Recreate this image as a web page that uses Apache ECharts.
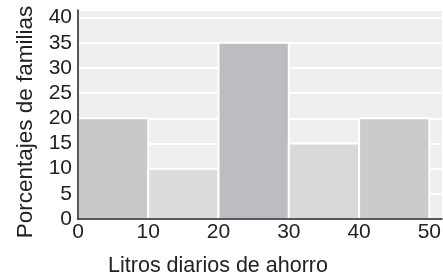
<!DOCTYPE html>
<html><head><meta charset="utf-8">
<script src="https://cdn.jsdelivr.net/npm/echarts@6/dist/echarts.min.js"></script>
<style>html,body{margin:0;padding:0;background:#fff}#c{width:443px;height:279px}</style>
</head><body><div id="c"></div>
<script>
var binStarts = [0, 10, 20, 30, 40];
var binEnds = [10, 20, 30, 40, 50];
var percentages = [20, 10, 35, 15, 20];
var barColors = ['#c9c9c9', '#dcdcdc', '#bcbdc0', '#d9d9d9', '#cacbcc'];
var xTicks = [0, 10, 20, 30, 40, 50];
var yTicks = [0, 5, 10, 15, 20, 25, 30, 35, 40];

var font = 'Liberation Sans';
var X_MAX = 51.8, Y_MAX = 41.5;
var data = binStarts.map(function (s, i) { return [s, binEnds[i], percentages[i]]; });
var lineOnly = {
  axisLine: {show: true, lineStyle: {color: '#222', width: 1.5}},
  axisTick: {show: false}, splitLine: {show: false}, axisLabel: {show: false}
};
var chart = echarts.init(document.getElementById('c'), null, {renderer: 'canvas'});
chart.setOption({
  animation: false,
  grid: {left: 78, right: 1, top: 10, bottom: 60, show: true, backgroundColor: '#efefef', borderWidth: 0,
    containLabel: false, outerBoundsMode: 'none'},
  xAxis: [{
    type: 'value', min: 0, max: X_MAX, interval: 10,
    name: 'Litros diarios de ahorro', nameLocation: 'middle', nameGap: 36,
    nameTextStyle: {fontFamily: font, fontSize: 21.5, color: '#222', padding: [0, 84, 0, 0]},
    axisLine: {show: false},
    axisTick: {show: false},
    splitLine: {show: false},
    axisLabel: {fontFamily: font, fontSize: 21, color: '#222', margin: 3,
      formatter: function (v) { return xTicks.indexOf(v) >= 0 ? String(v) : ''; }}
  }, Object.assign({type: 'value', min: 0, max: X_MAX, position: 'bottom', z: 10}, lineOnly)],
  yAxis: [{
    type: 'value', min: 0, max: Y_MAX, interval: 5,
    name: 'Porcentajes de familias', nameLocation: 'middle', nameGap: 40,
    nameTextStyle: {fontFamily: font, fontSize: 22.5, color: '#222', padding: [0, 15, 0, 0]},
    axisLine: {show: false},
    axisTick: {show: false},
    splitLine: {show: true, lineStyle: {color: '#ffffff', width: 2}},
    axisLabel: {fontFamily: font, fontSize: 21, color: '#222', margin: 6,
      formatter: function (v) { return yTicks.indexOf(v) >= 0 ? String(v) : ''; }}
  }, Object.assign({type: 'value', min: 0, max: Y_MAX, position: 'left', z: 10}, lineOnly)],
  series: [{
    type: 'custom',
    z: 2,
    data: data,
    encode: {x: [0, 1], y: 2},
    renderItem: function (params, api) {
      var p0 = api.coord([api.value(0), api.value(2)]);
      var p1 = api.coord([api.value(1), 0]);
      return {
        type: 'rect',
        shape: {x: p0[0], y: p0[1], width: p1[0] - p0[0], height: p1[1] - p0[1]},
        style: {fill: barColors[params.dataIndex], stroke: '#ffffff', lineWidth: 2}
      };
    }
  }]
});
</script></body></html>
